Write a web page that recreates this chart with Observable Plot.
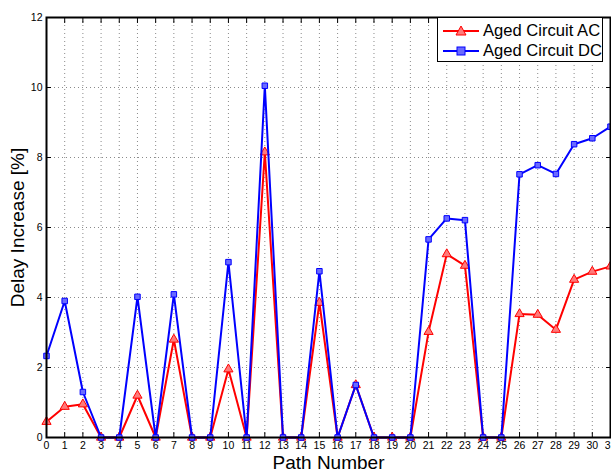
<!DOCTYPE html>
<html><head><meta charset="utf-8">
<script src="https://cdn.jsdelivr.net/npm/d3@7"></script>
<script src="https://cdn.jsdelivr.net/npm/@observablehq/plot@0.6"></script>
<style>
body{margin:0;background:#fff;}
#wrap{position:relative;width:611px;height:472px;font-family:"Liberation Sans",Arial,sans-serif;overflow:hidden;}
#legend{position:absolute;left:437px;top:17px;width:164px;height:43px;border:1.5px solid #000;background:#fff;}
.row{position:absolute;left:0;height:20px;display:flex;align-items:center;font-size:16.6px;color:#000;white-space:nowrap;}
.row svg{margin-left:5px;margin-right:4px;}
</style>
</head><body><div id="wrap"></div>
<script>
const pathNumbers = [0,1,2,3,4,5,6,7,8,9,10,11,12,13,14,15,16,17,18,19,20,21,22,23,24,25,26,27,28,29,30,31];
const agedAC = [0.45,0.88,0.95,0,0,1.2,0,2.8,0,0,1.95,0,8.15,0,0,3.85,0,1.5,0,0,0,3.02,5.24,4.91,0,0,3.53,3.51,3.08,4.51,4.74,4.89];
const agedDC = [2.33,3.9,1.3,0,0,4.02,0,4.09,0,0,5.01,0,10.05,0,0,4.75,0,1.5,0,0,0,5.66,6.26,6.21,0,0,7.52,7.78,7.53,8.38,8.55,8.88];
const xTicks = pathNumbers;
const yTicks = [0,2,4,6,8,10,12];
const seriesNames = ["Aged Circuit AC","Aged Circuit DC"];
const colors = ["#ff0000","#0000ff"];
const fills = ["#ff7a7a","#6a6aff"];

const data = pathNumbers.map((p,i)=>({p, ac: agedAC[i], dc: agedDC[i]}));
const grid = {stroke:"#8a8a8a", strokeOpacity:1, strokeDasharray:"1,3", strokeWidth:1};
const font = '"Liberation Sans",Arial,sans-serif';

const chart = Plot.plot({
  width: 611, height: 472,
  marginLeft: 46, marginRight: 1, marginTop: 17, marginBottom: 35,
  x: {domain: [0,31]},
  y: {domain: [0,12]},
  style: {fontFamily: font, fontSize: "10.5px", color: "#000", background: "#fff", overflow: "visible"},
  marks: [
    Plot.gridX(xTicks, grid),
    Plot.gridY(yTicks, grid),
    Plot.axisX(xTicks, {anchor:"bottom", tickSize:0, tickPadding:4, label:null, fontSize:10.5}),
    Plot.axisX(xTicks, {anchor:"bottom", tickSize:-5, text:null, label:null}),
    Plot.axisX(xTicks, {anchor:"top", tickSize:-5, text:null, label:null}),
    Plot.axisY(yTicks, {anchor:"left", tickSize:0, tickPadding:4, label:null, fontSize:10.5}),
    Plot.axisY(yTicks, {anchor:"left", tickSize:-5, text:null, label:null}),
    Plot.axisY(yTicks, {anchor:"right", tickSize:-5, text:null, label:null}),
    Plot.axisX([0], {anchor:"bottom", tickSize:0, tickFormat:()=>"", label:"Path Number", labelAnchor:"center", labelArrow:"none", labelOffset:31, fontSize:19, dx:17}),
    Plot.axisY([0], {anchor:"left", tickSize:0, tickFormat:()=>"", label:"Delay Increase [%]", labelAnchor:"center", labelArrow:"none", labelOffset:36, fontSize:19}),
    Plot.line(data, {x:"p", y:"ac", stroke:colors[0], strokeWidth:2}),
    Plot.dot(data, {x:"p", y:"ac", symbol:"triangle", r:3.4, stroke:colors[0], fill:fills[0], strokeWidth:1}),
    Plot.line(data, {x:"p", y:"dc", stroke:colors[1], strokeWidth:2}),
    Plot.dot(data, {x:"p", y:"dc", symbol:"square", r:3.1, stroke:colors[1], fill:fills[1], strokeWidth:1}),
    Plot.frame({stroke:"#000", strokeWidth:2})
  ]
});
const wrap = document.getElementById("wrap");
wrap.appendChild(chart);

const legend = document.createElement("div");
legend.id = "legend";
const symbols = [
  '<polygon points="18,4 23,13 13,13" />',
  '<rect x="14" y="5" width="8" height="8" />'
];
seriesNames.forEach((name,i)=>{
  const row = document.createElement("div");
  row.className = "row";
  row.style.top = (3 + i*20) + "px";
  row.innerHTML = `<svg width="36" height="18"><line x1="0" y1="9" x2="36" y2="9" stroke="${colors[i]}" stroke-width="2"/><g fill="${fills[i]}" stroke="${colors[i]}" stroke-width="1">${symbols[i]}</g></svg><span>${name}</span>`;
  legend.appendChild(row);
});
wrap.appendChild(legend);
</script>
</body></html>
